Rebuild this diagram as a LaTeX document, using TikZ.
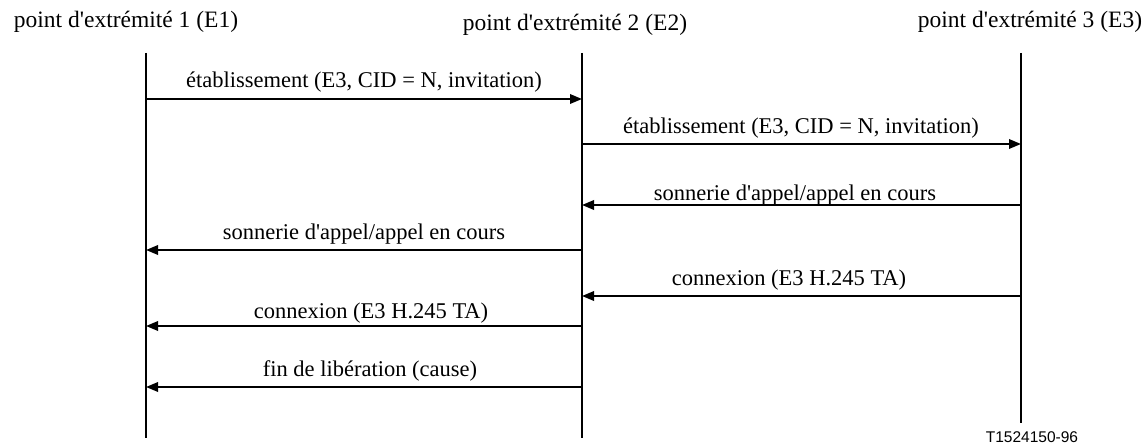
\documentclass[tikz,border=0pt]{standalone}
\usepackage{fontspec}
\setmainfont{Liberation Serif}
\newfontfamily\tagfont{Liberation Sans}
\usetikzlibrary{arrows.meta}
\newcommand{\apos}{\textquotesingle}
\tikzset{
  lifeline/.style={line width=1.8pt},
  msg/.style={line width=1.8pt,-{Triangle[length=12pt,width=9.5pt]}},
  lbl/.style={anchor=base,inner sep=0pt,font=\fontsize{22.5}{26}\selectfont},
  ttl/.style={anchor=base,inner sep=0pt,font=\fontsize{23.5}{26}\selectfont},
}
\begin{document}
\begin{tikzpicture}[x=1pt,y=-1pt]
\useasboundingbox (0,0) rectangle (1147,443);
% titles
\node[ttl] (t1) at (126,28) {point d\apos extrémité 1 (E1)};
\node[ttl] (t2) at (575,31) {point d\apos extrémité 2 (E2)};
\node[ttl] (t3) at (1030,28) {point d\apos extrémité 3 (E3)};
% lifelines
\coordinate (a1) at (146,53); \coordinate (b1) at (146,438);
\coordinate (a2) at (582,53); \coordinate (b2) at (582,438);
\coordinate (a3) at (1021,53); \coordinate (b3) at (1021,423);
\draw[lifeline] (a1) -- (b1);
\draw[lifeline] (a2) -- (b2);
\draw[lifeline] (a3) -- (b3);
% message endpoints
\coordinate (m1s) at (146,99);  \coordinate (m1e) at (582,99);
\coordinate (m2s) at (582,144); \coordinate (m2e) at (1021,144);
\coordinate (m3s) at (1021,205); \coordinate (m3e) at (582,205);
\coordinate (m4s) at (582,250); \coordinate (m4e) at (146,250);
\coordinate (m5s) at (1021,296); \coordinate (m5e) at (582,296);
\coordinate (m6s) at (582,326); \coordinate (m6e) at (146,326);
\coordinate (m7s) at (582,387); \coordinate (m7e) at (146,387);
\draw[msg] (m1s) -- (m1e);
\draw[msg] (m2s) -- (m2e);
\draw[msg] (m3s) -- (m3e);
\draw[msg] (m4s) -- (m4e);
\draw[msg] (m5s) -- (m5e);
\draw[msg] (m6s) -- (m6e);
\draw[msg] (m7s) -- (m7e);
% labels
\node[lbl] (l1) at (364,88) {établissement (E3, CID = N, invitation)};
\node[lbl] (l2) at (801,134) {établissement (E3, CID = N, invitation)};
\node[lbl] (l3) at (795,201) {sonnerie d\apos appel/appel en cours};
\node[lbl] (l4) at (364,240) {sonnerie d\apos appel/appel en cours};
\node[lbl] (l5) at (789,286) {connexion (E3 H.245 TA)};
\node[lbl] (l6) at (371,318) {connexion (E3 H.245 TA)};
\node[lbl] (l7) at (370,376) {fin de libération (cause)};
% figure tag
\node[anchor=base,inner sep=0pt,font=\tagfont\fontsize{15.5}{18}\selectfont] (tag) at (1032,442) {T1524150-96};
\end{tikzpicture}
\end{document}
